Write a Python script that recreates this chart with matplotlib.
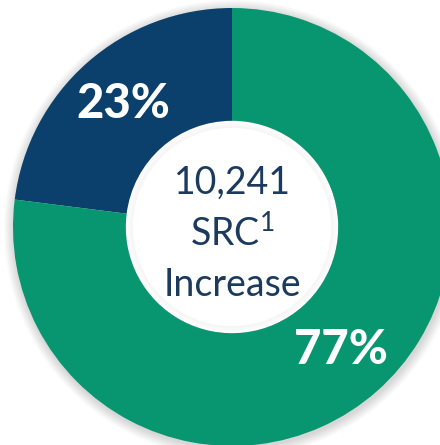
import matplotlib
matplotlib.use("Agg")
import matplotlib.pyplot as plt
from matplotlib.patches import Circle

categories = ["Other", "Increase"]
values = [23, 77]
colors = ["#0a406b", "#079670"]
center_lines = ["10,241", "SRC$^{\\mathregular{1}}$", "Increase"]

W, H = 440, 445
fig = plt.figure(figsize=(W / 100, H / 100), dpi=100)
ax = fig.add_axes([0, 0, 1, 1])

cx, cy = 232, H - 227
R = 219
hole = 0.485

# soft shadow
for i in range(10):
    ax.add_patch(Circle((cx + 1, cy - 2), R + 10 - i, color="#000000", alpha=0.015, lw=0, zorder=0))

wedges, texts, autotexts = ax.pie(
    values, colors=colors, startangle=90, counterclock=True,
    radius=R, center=(cx, cy), frame=True,
    autopct=lambda p: f"{p:.0f}%", pctdistance=0.75,
    wedgeprops=dict(width=R * (1 - hole), linewidth=0),
    textprops=dict(color="white", fontsize=34, fontweight="black", family="Lato"),
)
ax.set_xlim(0, W)
ax.set_ylim(0, H)
ax.set_aspect("equal")
ax.axis("off")

# hole: white with faint inner shading
ax.add_patch(Circle((cx, cy), R * hole, color="white", lw=0, zorder=0.5))
for i in range(5):
    ax.add_patch(Circle((cx, cy), R * hole - i * 1.5, color="#000000", alpha=0.008, lw=0, zorder=1))
ax.add_patch(Circle((cx, cy), R * hole - 7, color="white", lw=0, zorder=1))

txt_color = "#1b3a5e"
ys = [H - 183, H - 234, H - 285]
for s, y in zip(center_lines, ys):
    ax.text(cx, y, s, ha="center", va="center", fontsize=27, color=txt_color, family="Lato", zorder=3)

fig.savefig("out.png", dpi=100)
